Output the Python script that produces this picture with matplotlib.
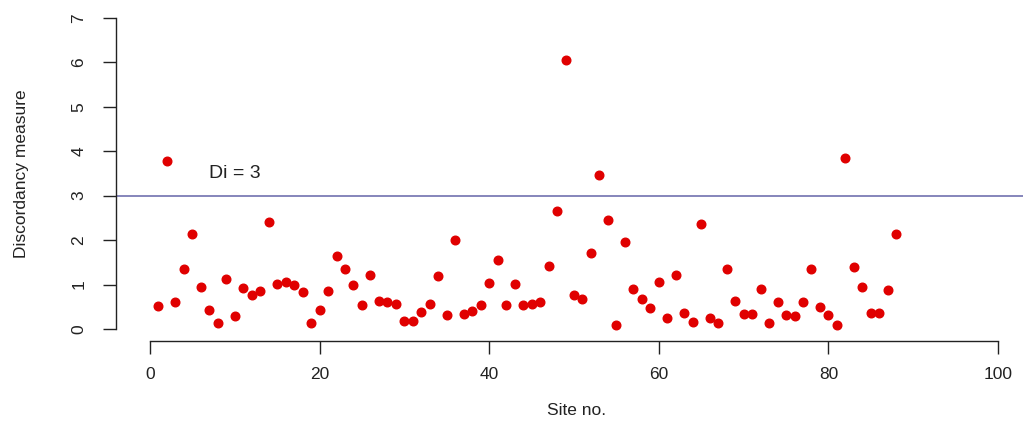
import matplotlib
matplotlib.use('agg')
import matplotlib.pyplot as plt
import numpy as np

plt.rcParams['font.family'] = ['Liberation Sans', 'DejaVu Sans']

# discordancy measure per site
site = np.arange(1, 89)
di = [0.52, 3.78, 0.61, 1.35, 2.14, 0.95, 0.43, 0.14, 1.13, 0.29,
      0.92, 0.77, 0.86, 2.41, 1.01, 1.06, 0.99, 0.83, 0.14, 0.43,
      0.86, 1.64, 1.35, 0.99, 0.54, 1.22, 0.63, 0.61, 0.56, 0.18,
      0.18, 0.38, 0.56, 1.19, 0.32, 2.00, 0.34, 0.41, 0.54, 1.04,
      1.55, 0.54, 1.01, 0.54, 0.56, 0.61, 1.42, 2.66, 6.05, 0.77,
      0.68, 1.71, 3.47, 2.45, 0.09, 1.96, 0.90, 0.68, 0.47, 1.06,
      0.25, 1.22, 0.36, 0.16, 2.36, 0.25, 0.14, 1.35, 0.63, 0.34,
      0.34, 0.90, 0.14, 0.61, 0.32, 0.29, 0.61, 1.35, 0.50, 0.32,
      0.09, 3.85, 1.40, 0.95, 0.36, 0.36, 0.88, 2.14]
threshold = 3
xticks = [0, 20, 40, 60, 80, 100]
yticks = [0, 1, 2, 3, 4, 5, 6, 7]

W, H = 1023, 423
fig = plt.figure(figsize=(W / 100, H / 100), dpi=100)
# R-like plot region (extends a bit past the right edge, as in the original)
ax = fig.add_axes([116 / W, 1 - 341.4 / H, 916 / W, 335.9 / H])

ax.axhline(threshold, color='#6464a8', lw=1.1, zorder=1)
ax.plot(site, di, 'o', color='#e00000', ms=6.2, mec='#e00000', zorder=3)
ax.text(10, 3.5, 'Di = 3', fontsize=14, color='#222222', ha='center', va='center')

ax.set_xlim(-4, 104)
ax.set_ylim(-0.28, 7.28)
ax.set_xticks(xticks)
ax.set_yticks(yticks)

for s in ['top', 'right']:
    ax.spines[s].set_visible(False)
ax.spines['left'].set_bounds(0, 7)
ax.spines['bottom'].set_bounds(0, 100)
for s in ['left', 'bottom']:
    ax.spines[s].set_color('#222222')
    ax.spines[s].set_linewidth(1.0)

ax.tick_params(axis='both', length=9.4, width=1.0, color='#222222',
               labelsize=12.5, labelcolor='#222222')
ax.tick_params(axis='x', pad=9)
ax.tick_params(axis='y', pad=12, labelrotation=90)
for lab in ax.get_yticklabels():
    lab.set_va('center')

ax.set_xlabel('Site no.', fontsize=12.5, color='#222222', va='center')
ax.xaxis.set_label_coords((577 - 116) / 916, (341.4 - 410) / 335.9)
ax.set_ylabel('Discordancy measure', fontsize=12.5, color='#222222', va='center')
ax.yaxis.set_label_coords((22 - 116) / 916, 0.5)

fig.savefig('out.png', dpi=100)
plt.close()
